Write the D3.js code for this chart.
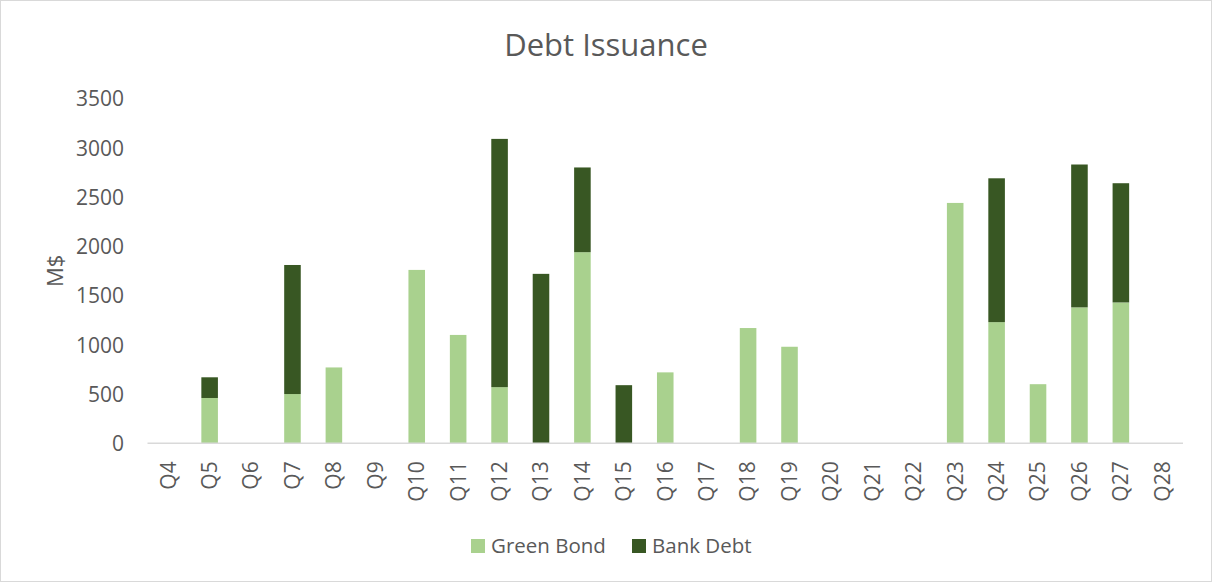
<!DOCTYPE html>
<html><head><meta charset="utf-8">
<script src="https://cdn.jsdelivr.net/npm/d3@7"></script>
<style>body{margin:0;background:#fff}svg{display:block;font-family:"Open Sans",sans-serif}</style>
</head><body>
<script>
const categories = ["Q4","Q5","Q6","Q7","Q8","Q9","Q10","Q11","Q12","Q13","Q14","Q15","Q16","Q17","Q18","Q19","Q20","Q21","Q22","Q23","Q24","Q25","Q26","Q27","Q28"];
const greenBond = [0,460,0,500,770,0,1760,1100,570,0,1940,0,720,0,1170,980,0,0,0,2440,1230,600,1380,1430,0];
const bankDebt  = [0,210,0,1310,0,0,0,0,2520,1720,860,590,0,0,0,0,0,0,0,0,1460,0,1450,1210,0];
const seriesNames = ["Green Bond","Bank Debt"];
const seriesColors = ["#a9d18e","#385723"];
const yTicks = [0,500,1000,1500,2000,2500,3000,3500];

(function(){
const W = 1212, H = 582;
const svg = d3.select("body").append("svg").attr("width", W).attr("height", H);
svg.append("rect").attr("x",0.5).attr("y",0.5).attr("width",W-1).attr("height",H-1)
  .attr("fill","#fff").attr("stroke","#d9d9d9");

const pL = 147.5, pR = 1183, pT = 98.5, pB = 443.3;
const x = d3.scaleBand().domain(categories).range([pL, pR]).paddingInner(0.6).paddingOuter(0.3);
const y = d3.scaleLinear().domain([0,3500]).range([pB, pT]);

const rows = categories.map((c,i)=>({cat:c, "Green Bond":greenBond[i], "Bank Debt":bankDebt[i]}));
const stack = d3.stack().keys(seriesNames)(rows);

svg.append("g").selectAll("g").data(stack).join("g")
  .attr("fill",(d,i)=>seriesColors[i])
  .selectAll("rect").data(d=>d).join("rect")
  .attr("x", d=>x(d.data.cat))
  .attr("width", x.bandwidth())
  .attr("y", d=>y(d[1]))
  .attr("height", d=>y(d[0])-y(d[1]));

svg.append("line").attr("x1",pL).attr("x2",pR).attr("y1",pB).attr("y2",pB)
  .attr("stroke","#d9d9d9").attr("stroke-width",1.5);

const yAxis = d3.axisLeft(y).tickValues(yTicks).tickFormat(d3.format("d")).tickSize(0).tickPadding(0);
const gy = svg.append("g").attr("transform","translate(124,0)").call(yAxis);
gy.select(".domain").remove();
gy.selectAll("text").attr("fill","#595959").style("font-size","21px").attr("dy","0.35em")
  .style("font-family","'Open Sans',sans-serif");

const xAxis = d3.axisBottom(x).tickSize(0);
const gx = svg.append("g").attr("transform",`translate(0,${pB})`).call(xAxis);
gx.select(".domain").remove();
gx.selectAll("text")
  .attr("fill","#595959").style("font-size","21px").style("font-family","'Open Sans',sans-serif")
  .attr("transform","rotate(-90)")
  .attr("text-anchor","end")
  .attr("x",-18).attr("y",0).attr("dy","0.35em");

svg.append("text").attr("x",606).attr("y",56).attr("text-anchor","middle")
  .attr("fill","#595959").style("font-size","31px").text("Debt Issuance");

svg.append("text").attr("transform",`translate(63,${(pT+pB)/2}) rotate(-90)`)
  .attr("text-anchor","middle").attr("fill","#595959").style("font-size","22px").text("M$");

const legX = [471, 632];
const lg = svg.append("g");
seriesNames.forEach((n,i)=>{
  lg.append("rect").attr("x",legX[i]).attr("y",539).attr("width",14).attr("height",14).attr("fill",seriesColors[i]);
  lg.append("text").attr("x",legX[i]+20).attr("y",546).attr("dy","0.35em")
    .attr("fill","#595959").style("font-size","20.5px").text(n);
});
})();
</script>
</body></html>
